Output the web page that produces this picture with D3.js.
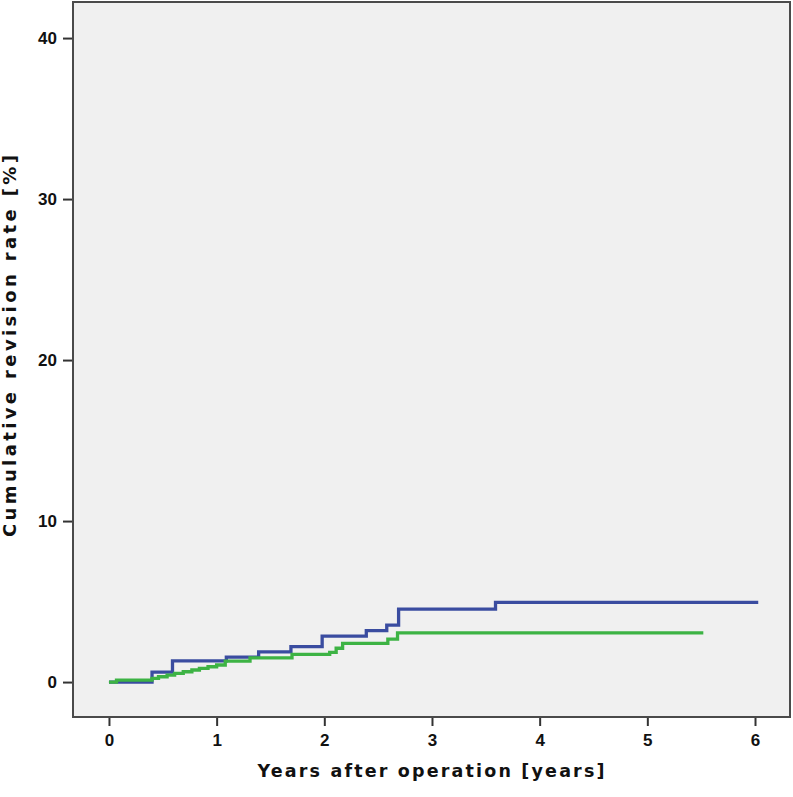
<!DOCTYPE html>
<html><head><meta charset="utf-8">
<script src="https://cdn.jsdelivr.net/npm/d3@7"></script>
<style>body{margin:0;background:#fff}</style>
</head><body>
<svg id="chart" width="793" height="797"></svg>
<script>
const xTicks = [0, 1, 2, 3, 4, 5, 6];
const yTicks = [0, 10, 20, 30, 40];
const blueTimes  = [0, 0.40, 0.59, 1.09, 1.39, 1.69, 1.98, 2.39, 2.58, 2.69, 3.59, 6.03];
const blueValues = [0, 0.62, 1.32, 1.55, 1.88, 2.20, 2.85, 3.19, 3.54, 4.53, 4.95, 4.95];
const greenTimes  = [0, 0.07, 0.40, 0.46, 0.54, 0.61, 0.69, 0.77, 0.84, 0.92, 1.00, 1.08, 1.31, 1.70, 2.05, 2.11, 2.17, 2.59, 2.68, 5.52];
const greenValues = [0, 0.12, 0.23, 0.33, 0.43, 0.54, 0.64, 0.75, 0.85, 0.95, 1.06, 1.30, 1.50, 1.72, 1.85, 2.10, 2.40, 2.67, 3.06, 3.06];
const xTitle = "Years after operation [years]";
const yTitle = "Cumulative revision rate [%]";

const svg = d3.select("#chart");
const L = 73, R = 790, T = 2, B = 717;
const x = d3.scaleLinear().domain([-0.334, 6.325]).range([L, R]);
const y = d3.scaleLinear().domain([-2.17, 42.24]).range([B, T]);

svg.append("rect").attr("x", L).attr("y", T).attr("width", R - L).attr("height", B - T)
  .attr("fill", "#f0f0f0").attr("stroke", "none");

const font = "'Liberation Sans', Arial, sans-serif";
const titleFont = "'DejaVu Sans', Verdana, sans-serif";

const xAxis = svg.append("g").attr("transform", `translate(0,${B})`)
  .call(d3.axisBottom(x).tickValues(xTicks).tickFormat(d3.format("d")).tickSize(9).tickPadding(8));
const yAxis = svg.append("g").attr("transform", `translate(${L},0)`)
  .call(d3.axisLeft(y).tickValues(yTicks).tickFormat(d3.format("d")).tickSize(10).tickPadding(6));
[xAxis, yAxis].forEach(g => {
  g.select(".domain").remove();
  g.selectAll(".tick line").attr("stroke", "#333").attr("stroke-width", 2);
  g.selectAll(".tick text").attr("fill", "#111").style("font-family", font)
    .style("font-size", "17px").style("font-weight", "bold");
});

const line = d3.line().x(d => x(d[0])).y(d => y(d[1])).curve(d3.curveStepAfter);
const blue = blueTimes.map((t, i) => [t, blueValues[i]]);
const green = greenTimes.map((t, i) => [t, greenValues[i]]);

svg.append("path").datum(blue).attr("d", line).attr("fill", "none")
  .attr("stroke", "#3a4ca0").attr("stroke-width", 3.3);
svg.append("path").datum(green).attr("d", line).attr("fill", "none")
  .attr("stroke", "#3db344").attr("stroke-width", 3.3);

svg.append("rect").attr("x", L).attr("y", T).attr("width", R - L).attr("height", B - T)
  .attr("fill", "none").attr("stroke", "#4a4a4a").attr("stroke-width", 2);

svg.append("text").attr("x", 431).attr("y", 777).attr("text-anchor", "middle")
  .style("font-family", titleFont).style("font-size", "17.5px").style("font-weight", "bold")
  .attr("fill", "#111").attr("textLength", 347).attr("lengthAdjust", "spacing").text(xTitle);

svg.append("text").attr("transform", "translate(16,346) rotate(-90)").attr("text-anchor", "middle")
  .style("font-family", titleFont).style("font-size", "18px").style("font-weight", "bold")
  .attr("fill", "#111").attr("textLength", 382).attr("lengthAdjust", "spacing").text(yTitle);
</script>
</body></html>
